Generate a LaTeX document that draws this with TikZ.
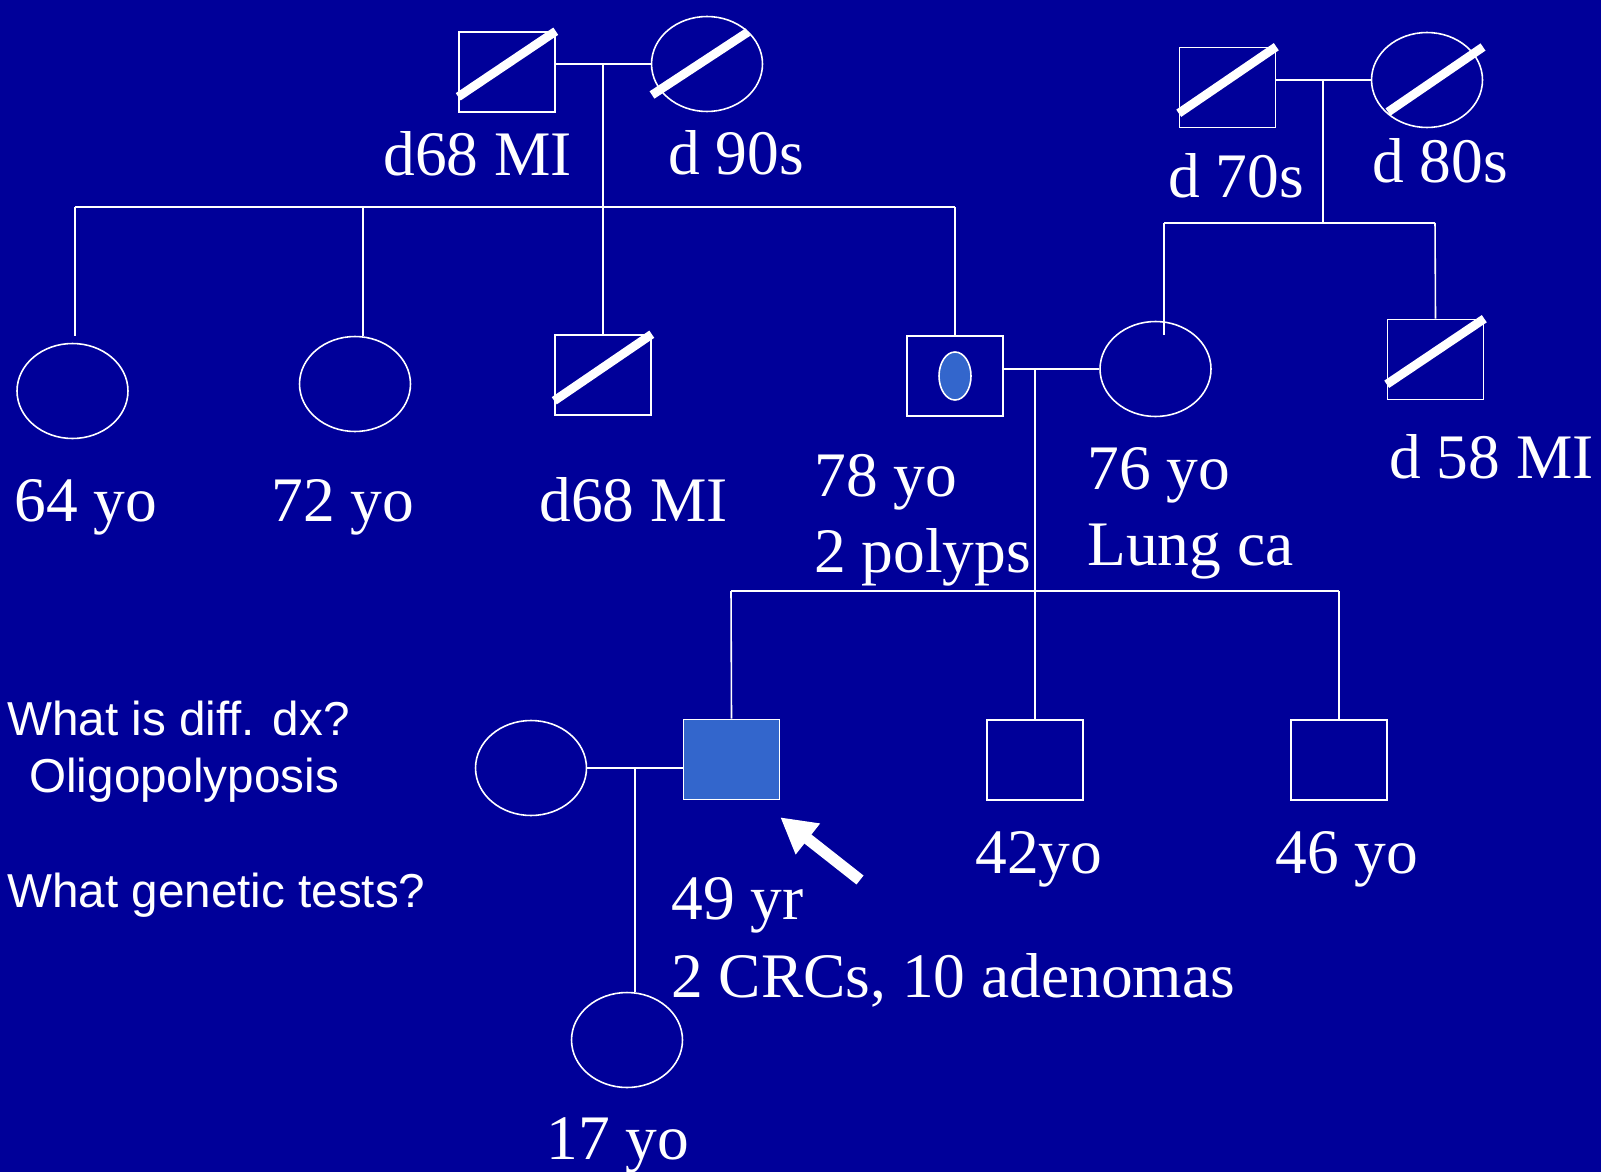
\documentclass[tikz,border=0pt]{standalone}
\usepackage{fontspec}
\setmainfont{Liberation Serif}
\setsansfont{Liberation Sans}
\usetikzlibrary{arrows.meta,shapes.geometric}
\definecolor{slideblue}{RGB}{0,0,153}
\definecolor{affected}{RGB}{51,102,204}

\begin{document}
\begin{tikzpicture}[
    x=0.02cm, y=-0.02cm,
    male/.style={rectangle,draw=white,line width=0.9pt,minimum width=1.92cm,minimum height=1.6cm,inner sep=0pt},
    female/.style={ellipse,draw=white,line width=0.9pt,minimum width=2.22cm,minimum height=1.9cm,inner sep=0pt},
    dead/.style={draw=white,line width=5pt},
    link/.style={draw=white,line width=0.9pt},
    pointer/.style={draw=white,line width=6.5pt,-{Triangle[length=20pt,width=21pt]}},
    lbl/.style={text=white,inner sep=0pt,anchor=base west,font=\fontsize{36.1}{43}\selectfont},
    note/.style={text=white,inner sep=0pt,anchor=base west,font=\sffamily\fontsize{27.1}{32}\selectfont}
  ]
  \fill[slideblue] (0,0) rectangle (1601,1172);

  % grandparents
  \node[male]   (gf1) at (507,72)     {};
  \node[female] (gm1) at (707,64)     {};
  \node[male]   (gf2) at (1227.5,87.5) {};
  \node[female] (gm2) at (1427,80)    {};
  \draw[dead] ([shift={(0,-16)}]gf1.south west) -- (gf1.north east);
  \draw[dead] ([shift={(-55,31)}]gm1.center) -- ([shift={(41,-32)}]gm1.center);
  \draw[dead] ([shift={(0,-15)}]gf2.south west) -- (gf2.north east);
  \draw[dead] ([shift={(-39,32)}]gm2.center) -- ([shift={(56,-33)}]gm2.center);

  % parents' generation
  \node[female] (a1) at (72.5,391) {};
  \node[female] (a2) at (355,384)  {};
  \node[male]   (u1) at (603,375)  {};
  \node[male]   (fa) at (955,376)  {};
  \node[ellipse,draw=white,line width=0.9pt,fill=affected,minimum width=0.64cm,minimum height=0.96cm,inner sep=0pt] (fadot) at (fa.center) {};
  \node[female] (mo) at (1155.5,369) {};
  \node[male]   (u2) at (1435.5,359.5) {};
  \draw[dead] ([shift={(0,-15)}]u1.south west) -- (u1.north east);
  \draw[dead] ([shift={(0,-16)}]u2.south west) -- (u2.north east);

  % children
  \node[male,fill=affected] (pb) at (731.5,759.5) {};
  \node[male]   (b1) at (1035,760)   {};
  \node[male]   (b2) at (1339,760)   {};
  \node[female] (wf) at (531,768)    {};
  \node[female] (dt) at (627,1040)   {};

  % junctions
  \coordinate (m1)   at (603,64);
  \coordinate (s1w)  at (75,207);
  \coordinate (s1e)  at (955,207);
  \coordinate (a1up) at (75,336);
  \coordinate (a2s)  at (363,207);
  \coordinate (a2up) at (363,336);
  \coordinate (m2)   at (1323,80);
  \coordinate (s2)   at (1323,223);
  \coordinate (s2w)  at (1164,223);
  \coordinate (s2e)  at (1435,223);
  \coordinate (moup) at (1164,335);
  \coordinate (m3)   at (1035,368);
  \coordinate (s3w)  at (731,591);
  \coordinate (s3e)  at (1339,591);
  \coordinate (m4)   at (635,768);
  \coordinate (dtup) at (635,992);
  \coordinate (ptr)  at (860,880);

  \draw[link] (gf1.east |- gm1.west) -- (gm1.west);
  \draw[link] (m1) -- (u1.north);
  \draw[link] (s1w) -- (s1e);
  \draw[link] (s1w) -- (a1up);
  \draw[link] (a2s) -- (a2up);
  \draw[link] (s1e) -- (fa.north);

  \draw[link] (gf2.east |- gm2.west) -- (gm2.west);
  \draw[link] (m2) -- (s2);
  \draw[link] (s2w) -- (s2e);
  \draw[link] (s2w) -- (moup);
  \draw[link] (s2e) -- (u2.north);

  \draw[link] (fa.east |- mo.west) -- (mo.west);
  \draw[link] (m3) -- (b1.north);
  \draw[link] (s3w) -- (s3e);
  \draw[link] (s3w) -- (pb.north);
  \draw[link] (s3e) -- (b2.north);

  \draw[link] (wf.east) -- (wf.east -| pb.west);
  \draw[link] (m4) -- (dtup);

  \draw[pointer] (ptr) -- ([shift={(0,17)}]pb.south east);

  % labels
  \node[lbl] (tgf1) at (383,176)  {d68 MI};
  \node[lbl] (tgm1) at (668,175)  {d 90s};
  \node[lbl] (tgf2) at (1168,198) {d 70s};
  \node[lbl] (tgm2) at (1372,183) {d 80s};
  \node[lbl] (ta1)  at (14,521)   {64 yo};
  \node[lbl] (ta2)  at (271,521)  {72 yo};
  \node[lbl] (tu1)  at (539,521)  {d68 MI};
  \node[lbl] (tfa1) at (814,496)  {78 yo};
  \node[lbl] (tfa2) at (814,572)  {2 polyps};
  \node[lbl] (tmo1) at (1087,489) {76 yo};
  \node[lbl] (tmo2) at (1087,565) {Lung ca};
  \node[lbl] (tu2)  at (1389,478) {d 58 MI};
  \node[lbl] (tb1)  at (975,873)  {42yo};
  \node[lbl] (tb2)  at (1275,873) {46 yo};
  \node[lbl] (tpb1) at (671,919)  {49 yr};
  \node[lbl] (tpb2) at (671,997)  {2 CRCs, 10 adenomas};
  \node[lbl] (tdt)  at (546,1159) {17 yo};

  \node[note] (q1) at (7,735)  {What is diff. dx?};
  \node[note] (q2) at (29,792) {Oligopolyposis};
  \node[note] (q3) at (7,907)  {What genetic tests?};
\end{tikzpicture}
\end{document}
